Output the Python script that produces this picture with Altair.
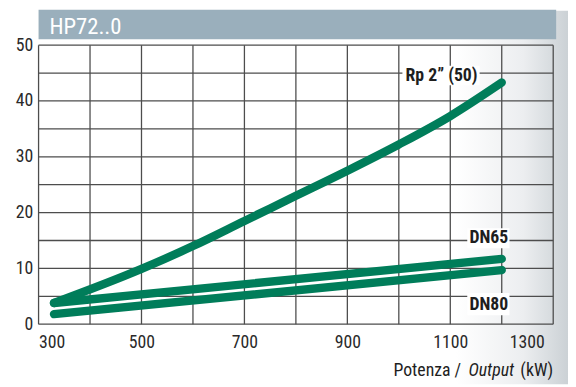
import altair as alt
import pandas as pd

# ---- data ----
rp_x = [330, 500, 600, 700, 800, 900, 1000, 1100, 1200]
rp_y = [3.8, 9.9, 14.0, 18.5, 23.0, 27.5, 32.2, 37.3, 43.3]
dn65_x = [330, 1200]
dn65_y = [3.8, 11.7]
dn80_x = [330, 1200]
dn80_y = [1.8, 9.7]

series_names = ["Rp 2\u201d (50)", "DN65", "DN80"]

label_text = ["Rp 2\u201d (50)", "DN65", "DN80"]
label_x = [1083, 1175, 1175]
label_y = [44.5, 15.4, 3.5]
box_x1 = [1007, 1133, 1133]
box_x2 = [1157, 1215, 1215]
box_y1 = [42.8, 13.6, 1.6]
box_y2 = [46.3, 17.2, 5.6]

x_grid = [300, 400, 500, 600, 700, 800, 900, 1000, 1100, 1200, 1300]
y_grid = [0, 5, 10, 15, 20, 25, 30, 35, 40, 45, 50]
x_labels = [300, 500, 700, 900, 1100, 1300]
y_labels = [0, 10, 20, 30, 40, 50]

title_text = "HP72..0"
axis_title_parts = ["Potenza /", "Output", "(kW)"]

FONT = "Roboto Condensed"
GREEN = "#007d5a"
GRID = "#4d4d4d"

rows = []
for n, xs_, ys_ in [(series_names[0], rp_x, rp_y), (series_names[1], dn65_x, dn65_y), (series_names[2], dn80_x, dn80_y)]:
    for a, b in zip(xs_, ys_):
        rows.append({"series": n, "x": a, "y": b})
df = pd.DataFrame(rows)

lab = pd.DataFrame({"t": label_text, "x": label_x, "y": label_y,
                    "x1": box_x1, "x2": box_x2, "y1": box_y1, "y2": box_y2})
gx = pd.DataFrame({"x": x_grid})
gy = pd.DataFrame({"y": y_grid})

xs = alt.Scale(domain=[300, 1300], nice=False)
ys = alt.Scale(domain=[0, 50], nice=False)

W, H = 522, 283

bg = alt.Chart(pd.DataFrame({"a": [0]})).mark_rect(
    color=alt.LinearGradient(
        gradient="linear", x1=0, x2=1, y1=0, y2=0,
        stops=[alt.GradientStop(offset=0, color="#ffffff"),
               alt.GradientStop(offset=0.80, color="#ffffff"),
               alt.GradientStop(offset=0.92, color="#eceef0"),
               alt.GradientStop(offset=1, color="#cbd1d5")])
).encode(x=alt.value(-31), x2=alt.value(537), y=alt.value(-35), y2=alt.value(344))

bar = alt.Chart(pd.DataFrame({"a": [0]})).mark_rect(color="#9aafbc").encode(
    x=alt.value(0), x2=alt.value(525), y=alt.value(-36), y2=alt.value(-6))

ttl = alt.Chart(pd.DataFrame({"t": [title_text]})).mark_text(
    font=FONT, fontSize=23, color="white", align="left", baseline="alphabetic"
).encode(x=alt.value(11), y=alt.value(-11), text="t:N")

vgrid = alt.Chart(gx).mark_rule(color=GRID, strokeWidth=1.3).encode(
    x=alt.X("x:Q", scale=xs,
            axis=alt.Axis(values=x_labels, title=None, grid=False, ticks=False, domain=False,
                          zindex=2, format="d",
                          labelFont=FONT, labelFontSize=18, labelColor="#2a2a2a", labelPadding=10,
                          labelOffset={"condition": {"test": "datum.value == 1300", "value": -9},
                                       "value": 0})),
    y=alt.value(0), y2=alt.value(H))

hgrid = alt.Chart(gy).mark_rule(color=GRID, strokeWidth=1.3).encode(
    y=alt.Y("y:Q", scale=ys,
            axis=alt.Axis(values=y_labels, title=None, grid=False, ticks=False, domain=False,
                          zindex=2, format="d",
                          labelFont=FONT, labelFontSize=18, labelColor="#2a2a2a", labelPadding=6)),
    x=alt.value(0), x2=alt.value(W))

lines = alt.Chart(df).mark_line(
    strokeWidth=8.5, strokeCap="round", strokeJoin="round", interpolate="monotone", color=GREEN
).encode(x=alt.X("x:Q", scale=xs), y=alt.Y("y:Q", scale=ys), detail="series:N")

boxes = alt.Chart(lab).mark_rect(color="white").encode(
    x=alt.X("x1:Q", scale=xs), x2="x2:Q", y=alt.Y("y1:Q", scale=ys), y2="y2:Q")

texts = alt.Chart(lab).mark_text(
    font=FONT, fontSize=18, fontWeight="bold", color="#1e1e1e", baseline="middle"
).encode(x=alt.X("x:Q", scale=xs), y=alt.Y("y:Q", scale=ys), text="t:N")

at1 = alt.Chart(pd.DataFrame({"t": [axis_title_parts[0]]})).mark_text(
    font=FONT, fontSize=18, color="#1e1e1e", align="left", baseline="alphabetic"
).encode(x=alt.value(360), y=alt.value(336), text="t:N")
at2 = alt.Chart(pd.DataFrame({"t": [axis_title_parts[1]]})).mark_text(
    font=FONT, fontSize=18, fontStyle="italic", color="#1e1e1e", align="left", baseline="alphabetic"
).encode(x=alt.value(436), y=alt.value(336), text="t:N")
at3 = alt.Chart(pd.DataFrame({"t": [axis_title_parts[2]]})).mark_text(
    font=FONT, fontSize=18, color="#1e1e1e", align="right", baseline="alphabetic"
).encode(x=alt.value(522), y=alt.value(336), text="t:N")

chart = alt.layer(bg, bar, ttl, vgrid, hgrid, lines, boxes, texts, at1, at2, at3).properties(
    width=W, height=H,
    autosize=alt.AutoSizeParams(type="none"),
    padding={"left": 31, "top": 35, "right": 15, "bottom": 61},
).configure_view(stroke=None).configure(background="white")

chart.save("out.html", embed_options={"renderer": "svg", "actions": False})
